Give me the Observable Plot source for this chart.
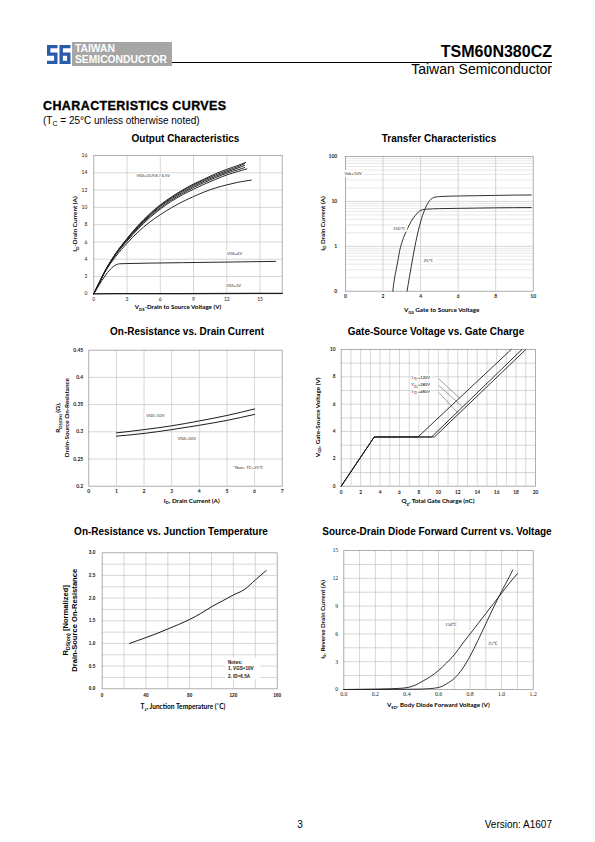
<!DOCTYPE html>
<html><head><meta charset="utf-8">
<script src="https://cdn.jsdelivr.net/npm/d3@7"></script>
<script src="https://cdn.jsdelivr.net/npm/@observablehq/plot@0.6"></script>
<style>
html,body{margin:0;padding:0;background:#fff;}
#page{position:relative;width:595px;height:842px;overflow:hidden;font-family:"Liberation Sans",Arial,sans-serif;color:#000;}
.t{position:absolute;white-space:nowrap;line-height:1;}
.ct{position:absolute;white-space:nowrap;font-weight:bold;font-size:10px;line-height:1;transform:translateX(-50%);}
</style></head><body>
<div id="page">
  <svg class="t" style="left:47px;top:45px" width="24" height="20" viewBox="0 0 24 20">
    <path fill="#2a5caa" d="M0,0H10.5V3.2H3.4V7.6H10.5V19H0V15.8H7.1V10.8H0Z"/>
    <path fill="#2a5caa" d="M12.5,0H23.5V3.2H15.9V7.6H23.5V19H12.5ZM15.9,10.8V15.8H20.1V10.8Z"/>
  </svg>
  <div class="t" style="left:72px;top:42px;width:100px;height:24px;background:#a6a6a6;"></div>
  <div class="t" style="left:75px;top:44.3px;color:#fff;font-weight:bold;font-size:10.3px;">TAIWAN</div>
  <div class="t" style="left:75px;top:55.3px;color:#fff;font-weight:bold;font-size:10.3px;">SEMICONDUCTOR</div>
  <div class="t" style="left:172px;top:62px;width:380px;height:1px;background:#000;"></div>
  <div class="t" style="right:43px;top:44.1px;font-weight:bold;font-size:16px;">TSM60N380CZ</div>
  <div class="t" style="right:43px;top:62.2px;font-size:14px;">Taiwan Semiconductor</div>
  <div class="t" style="left:43px;top:100.4px;font-weight:bold;font-size:12.5px;letter-spacing:0.4px;-webkit-text-stroke:0.35px #000;">CHARACTERISTICS CURVES</div>
  <div class="t" style="left:43px;top:115.5px;font-size:10px;">(T<sub style="font-size:7px;vertical-align:-1.5px;line-height:0;">C</sub> = 25°C unless otherwise noted)</div>
  <div class="ct" style="left:185.5px;top:133.5px;">Output Characteristics</div>
  <div class="ct" style="left:439px;top:133.5px;">Transfer Characteristics</div>
  <div class="ct" style="left:187px;top:326.5px;">On-Resistance vs. Drain Current</div>
  <div class="ct" style="left:436px;top:326.5px;">Gate-Source Voltage vs. Gate Charge</div>
  <div class="ct" style="left:171px;top:526.5px;">On-Resistance vs. Junction Temperature</div>
  <div class="ct" style="left:437px;top:526.5px;">Source-Drain Diode Forward Current vs. Voltage</div>
  <div class="t" style="left:297.2px;top:819.5px;font-size:10px;">3</div>
  <div class="t" style="right:43px;top:819.5px;font-size:10px;">Version: A1607</div>
</div>
<script>
// ---------------- DATA ----------------
// Output Characteristics: [VDS (V), ID (A)]
const outVgs10 = [[0,0],[0.5,1.3],[1,2.6],[2,4.7],[3,6.4],[4,7.9],[5,9.2],[6,10.3],[7,11.2],[8,12.0],[9,12.7],[10,13.3],[11,13.9],[12,14.4],[13,14.85],[13.7,15.2]];
const outVgs9  = [[0,0],[0.5,1.3],[1,2.6],[2,4.7],[3,6.35],[4,7.85],[5,9.1],[6,10.2],[7,11.1],[8,11.9],[9,12.6],[10,13.2],[11,13.75],[12,14.25],[13,14.7],[13.6,15.05]];
const outVgs8  = [[0,0],[0.5,1.3],[1,2.6],[2,4.65],[3,6.3],[4,7.75],[5,9.0],[6,10.1],[7,11.0],[8,11.75],[9,12.45],[10,13.05],[11,13.6],[12,14.1],[13,14.55],[13.6,14.85]];
const outVgs7  = [[0,0],[0.5,1.3],[1,2.55],[2,4.6],[3,6.2],[4,7.65],[5,8.9],[6,9.95],[7,10.85],[8,11.6],[9,12.3],[10,12.9],[11,13.45],[12,13.95],[13,14.35],[13.6,14.6]];
const outVgs6  = [[0,0],[0.5,1.3],[1,2.55],[2,4.55],[3,6.1],[4,7.5],[5,8.75],[6,9.8],[7,10.7],[8,11.45],[9,12.1],[10,12.7],[11,13.25],[12,13.75],[13,14.15],[13.8,14.45]];
const outVgs5  = [[0,0],[0.5,1.3],[1,2.5],[2,4.35],[3,5.85],[4,7.15],[5,8.25],[6,9.15],[7,9.95],[8,10.65],[9,11.25],[10,11.8],[11,12.25],[12,12.6],[13,12.9],[14.2,13.15]];
const outVgs4  = [[0,0],[0.5,1.05],[1,2.05],[1.5,2.85],[2,3.35],[2.3,3.47],[3,3.5],[5,3.55],[8,3.6],[12,3.67],[16.4,3.75]];
const outVgs3  = [[0,0],[2,0.02],[8,0.03],[17,0.06]];
const outLabels = [{x:5.36,y:13.7,t:"VGS=10,9,8,7,6,5V"},{x:12.7,y:4.6,t:"VGS=4V"},{x:12.6,y:0.9,t:"VGS=3V"}];

// Transfer Characteristics: [VGS (V), ID (A)]
const tr25  = [[3.28,0.1],[3.4,0.2],[3.5,0.35],[3.6,0.6],[3.7,1.0],[3.8,1.6],[3.9,2.4],[4.0,3.5],[4.1,4.8],[4.2,6.2],[4.3,7.8],[4.4,9.3],[4.5,10.6],[4.6,11.6],[4.7,12.2],[4.85,12.6],[5,12.8],[6,13.2],[7,13.4],[8,13.6],[9,13.8],[9.9,13.9]];
const tr150 = [[2.52,0.1],[2.6,0.18],[2.7,0.3],[2.8,0.5],[2.9,0.85],[3.0,1.2],[3.2,2.0],[3.4,3.0],[3.6,4.2],[3.8,5.3],[3.95,6.1],[4.1,6.5],[4.3,6.7],[5,6.9],[6,7.0],[7,7.1],[8,7.2],[9.9,7.3]];
const trLabels = [{x:0.41,y:41,t:"Vds=10V",a:"start"},{x:2.84,y:2.5,t:"150℃",a:"middle"},{x:4.4,y:0.47,t:"25℃",a:"middle"}];

// On-Resistance vs Drain Current: [ID (A), RDS(on) (ohm)]
const ronVgs10 = [[1,0.298],[2,0.304],[3,0.311],[4,0.320],[5,0.330],[6,0.342]];
const ronVgs20 = [[1,0.292],[2,0.297],[3,0.304],[4,0.312],[5,0.321],[6,0.332]];
const ronLabels = [{x:2.41,y:0.329,t:"VGS=10V"},{x:3.55,y:0.287,t:"VGS=20V"},{x:5.76,y:0.235,t:"*Note: TC=25℃"}];

// Gate charge: [Qg (nC), VGS (V)]
const gc120 = [[0,0],[3.4,3.6],[7.9,3.6],[17.5,10]];
const gc380 = [[0,0],[3.4,3.6],[9.3,3.6],[18.6,10]];
const gc480 = [[0,0],[3.4,3.6],[9.6,3.6],[19.0,10]];
const gcLabelNames = ["120V","380V","480V"];
const gcLabelY = [7.9,7.37,6.88];
const gcLeaders = [{x1:10.05,y1:7.85,x2:12.18,y2:6.45},{x1:10.05,y1:7.37,x2:12.5,y2:5.8},{x1:10.05,y1:6.85,x2:12.1,y2:5.3}];

// On-Resistance vs Junction Temperature: [TJ (°C), normalized RDS(on)]
const rtj = [[25,1.0],[40,1.13],[50,1.22],[60,1.32],[70,1.42],[80,1.53],[90,1.66],[100,1.81],[110,1.94],[120,2.07],[130,2.19],[140,2.4],[150,2.61]];
const rtjNotes = [{y:0.59,t:"Notes:"},{y:0.44,t:"1. VGS=10V"},{y:0.28,t:"2. ID=6.5A"}];

// Source-Drain diode: [VSD (V), IS (A)]
const sd150 = [[0,0],[0.1,0.02],[0.2,0.04],[0.3,0.08],[0.35,0.12],[0.4,0.2],[0.45,0.45],[0.5,0.9],[0.55,1.4],[0.6,2.05],[0.65,2.85],[0.7,3.75],[0.75,4.9],[0.8,6.0],[0.85,7.1],[0.9,8.2],[0.95,9.3],[1.0,10.4],[1.05,11.5],[1.1,12.5]];
const sd25  = [[0,0],[0.2,0.01],[0.4,0.02],[0.5,0.05],[0.55,0.1],[0.6,0.22],[0.63,0.4],[0.65,0.6],[0.7,1.2],[0.75,2.2],[0.8,3.6],[0.85,5.3],[0.9,7.1],[0.95,8.9],[1.0,10.6],[1.05,12.2],[1.07,12.9]];
const sdLabels = [{x:0.68,y:7.0,t:"150℃"},{x:0.945,y:5.0,t:"25℃"}];

// Tick lists
const outXTicks = [0,3,6,9,12,15], outYTicks = [0,2,4,6,8,10,12,14,16];
const trXTicks = [0,2,4,6,8,10], trYTicks = [0.1,1,10,100];
const trMinor = [0.2,0.3,0.4,0.5,0.6,0.7,0.8,0.9,2,3,4,5,6,7,8,9,20,30,40,50,60,70,80,90];
const ronXTicks = [0,1,2,3,4,5,6,7], ronYTicks = [0.2,0.25,0.3,0.35,0.4,0.45];
const gcXTicks = [0,2,4,6,8,10,12,14,16,18,20], gcYTicks = [0,2,4,6,8,10];
const rtjXTicks = [0,40,80,120,160], rtjYTicks = [0,0.5,1,1.5,2,2.5,3];
const sdXTicks = [0,0.2,0.4,0.6,0.8,1.0,1.2], sdYTicks = [0,3,6,9,12,15];

// ---------------- HELPERS ----------------
const page = document.getElementById("page");
const GRID = "#c4c4c4", FRAME = "#9a9a9a", INK = "#1c1c1c";
const CAL = "Lato, 'Open Sans', sans-serif";
const ARIAL = "'Liberation Sans', Arial, sans-serif";
const SERIF = "'Liberation Serif', 'Times New Roman', serif";

function rich(sel, segs, fs){
  let shift = 0;
  for (const s of segs){
    const sub = Array.isArray(s);
    const target = sub ? fs*0.28 : 0;
    const ts = sel.append("tspan").text(sub ? s[0] : s);
    if (target - shift !== 0) ts.attr("dy", target - shift);
    if (sub) ts.attr("font-size", fs*0.68);
    shift = target;
  }
}
function addText(plot, cfg, px, py, segs, o = {}){
  const fs = o.size || 6;
  const t = d3.select(plot).append("text")
    .attr("transform", `translate(${px - cfg.left},${py - cfg.top})` + (o.rotate ? ` rotate(${o.rotate})` : ""))
    .attr("text-anchor", o.anchor || "middle")
    .attr("font-size", fs).attr("font-weight", o.weight || "bold")
    .attr("font-family", o.family || CAL).attr("fill", "#000");
  if (o.halo) t.attr("stroke", "#fff").attr("stroke-width", o.halo).attr("paint-order", "stroke").attr("stroke-linejoin", "round");
  rich(t, segs, fs);
  return t;
}
function makeChart(cfg){
  const [mt, mr, mb, ml] = cfg.m;
  const marks = [];
  if (cfg.gridYMinor) marks.push(Plot.gridY(cfg.gridYMinor, {stroke: "#d6d6d6", strokeOpacity: 1, strokeWidth: 0.6}));
  marks.push(Plot.gridX(cfg.gridX, {stroke: GRID, strokeOpacity: 1, strokeWidth: 0.7}));
  marks.push(Plot.gridY(cfg.gridY, {stroke: GRID, strokeOpacity: 1, strokeWidth: 0.7}));
  marks.push(Plot.frame({stroke: FRAME, strokeWidth: 0.8}));
  const tf = {fontSize: cfg.tickSize, fontFamily: cfg.tickFamily, fontWeight: cfg.tickWeight, fill: "#222"};
  marks.push(Plot.axisX(cfg.xTicks, {tickSize: 0, tickPadding: cfg.xPad, tickFormat: cfg.xFmt, label: null, ...tf}));
  marks.push(Plot.axisY(cfg.yTicks, {tickSize: 0, tickPadding: cfg.yPad, tickFormat: cfg.yFmt, label: null, ...tf}));
  marks.push(...cfg.marks);
  const plot = Plot.plot({
    width: cfg.w, height: cfg.h,
    marginTop: mt, marginRight: mr, marginBottom: mb, marginLeft: ml,
    style: {background: "transparent", fontFamily: cfg.tickFamily, fontSize: cfg.tickSize + "px", color: "#000", overflow: "visible", maxWidth: "none"},
    x: {domain: cfg.xDomain, type: cfg.xType || "linear"},
    y: {domain: cfg.yDomain, type: cfg.yType || "linear"},
    marks
  });
  plot.style.position = "absolute";
  plot.style.left = cfg.left + "px";
  plot.style.top = cfg.top + "px";
  page.appendChild(plot);
  return plot;
}
const line = (d, o = {}) => Plot.line(d, {x: p => p[0], y: p => p[1], stroke: INK, strokeWidth: 0.9, curve: "monotone-x", ...o});

// ---------------- CHART 1: Output ----------------
{
  const cfg = {left: 60, top: 148, w: 230, h: 175, m: [7, 8.3, 29.7, 33.3],
    xDomain: [0, 17], yDomain: [0, 16],
    gridX: [3,6,9,12,15], gridY: [2,4,6,8,10,12,14],
    xTicks: outXTicks, yTicks: outYTicks, xFmt: d => String(d), yFmt: d => String(d),
    tickSize: 5, tickFamily: CAL, tickWeight: "normal", xPad: 4, yPad: 6.5,
    marks: [
      ...[outVgs10, outVgs9, outVgs8, outVgs7, outVgs6, outVgs5, outVgs4].map(s => line(s, {strokeWidth: 0.95})),
      line(outVgs3, {strokeWidth: 1.3}),
      Plot.text(outLabels, {x: "x", y: "y", text: "t", fontSize: 4, fontFamily: CAL, fill: "#333", stroke: "#fff", strokeWidth: 2})
    ]};
  const p = makeChart(cfg);
  addText(p, cfg, 77, 224, ["I", ["D"], "-Drain Current (A)"], {rotate: -90, size: 6.3});
  addText(p, cfg, 178, 309, ["V", ["DS"], "-Drain to Source Voltage (V)"], {size: 6.2});
}

// ---------------- CHART 2: Transfer ----------------
{
  const cfg = {left: 310, top: 148, w: 240, h: 175, m: [8, 17.3, 32.3, 35],
    xDomain: [0, 10], yDomain: [0.1, 100], yType: "log",
    gridX: [2,4,6,8], gridY: [1,10], gridYMinor: trMinor,
    xTicks: trXTicks, yTicks: trYTicks, xFmt: d => String(d), yFmt: d => d === 0.1 ? "0" : String(d),
    tickSize: 5, tickFamily: CAL, tickWeight: "bold", xPad: 3.5, yPad: 8.3,
    marks: [
      line(tr25), line(tr150),
      Plot.text(trLabels, {x: "x", y: "y", text: "t", textAnchor: d => d.a, fontSize: 4.3, fontFamily: CAL, fill: "#333", stroke: "#fff", strokeWidth: 4})
    ]};
  const p = makeChart(cfg);
  addText(p, cfg, 324.5, 223.5, ["I", ["D"], " Drain Current (A)"], {rotate: -90, size: 6.3});
  addText(p, cfg, 441.7, 312, ["V", ["GS"], " Gate to Source Voltage"], {size: 6.3});
}

// ---------------- CHART 3: On-resistance vs drain current ----------------
{
  const cfg = {left: 30, top: 340, w: 260, h: 170, m: [9.7, 8.3, 24.3, 58.3],
    xDomain: [0, 7], yDomain: [0.2, 0.45],
    gridX: [1,2,3,4,5,6], gridY: [0.25,0.3,0.35,0.4],
    xTicks: ronXTicks, yTicks: ronYTicks, xFmt: d => String(d), yFmt: d => String(d),
    tickSize: 5, tickFamily: CAL, tickWeight: "bold", xPad: 3.3, yPad: 5.6,
    marks: [
      line(ronVgs10, {strokeWidth: 1}), line(ronVgs20, {strokeWidth: 1}),
      Plot.text(ronLabels, {x: "x", y: "y", text: "t", fontSize: 4.2, fontFamily: CAL, fill: "#333", stroke: "#fff", strokeWidth: 4})
    ]};
  const p = makeChart(cfg);
  addText(p, cfg, 60.3, 417.7, ["R", ["DS(ON)"], " (Ω),"], {rotate: -90, size: 6.3});
  addText(p, cfg, 68.8, 417.7, ["Drain-Source On-Resistance"], {rotate: -90, size: 6.3});
  addText(p, cfg, 191.7, 502.5, ["I", ["D"], ", Drain Current (A)"], {size: 6.3});
}

// ---------------- CHART 4: Gate charge ----------------
{
  const cfg = {left: 310, top: 340, w: 240, h: 170, m: [9, 15, 24.3, 30.7],
    xDomain: [0, 20], yDomain: [0, 10],
    gridX: [1,2,3,4,5,6,7,8,9,10,11,12,13,14,15,16,17,18,19], gridY: [1,2,3,4,5,6,7,8,9],
    xTicks: gcXTicks, yTicks: gcYTicks, xFmt: d => String(d), yFmt: d => String(d),
    tickSize: 4.8, tickFamily: CAL, tickWeight: "bold", xPad: 4.3, yPad: 5.7,
    marks: [
      line(gc120, {curve: "linear"}), line(gc380, {curve: "linear"}), line(gc480, {curve: "linear"}),
      Plot.link(gcLeaders, {x1: "x1", y1: "y1", x2: "x2", y2: "y2", stroke: "#444", strokeWidth: 0.5})
    ]};
  const p = makeChart(cfg);
  const sx = p.scale("x"), sy = p.scale("y");
  gcLabelNames.forEach((n, i) => {
    addText(p, cfg, cfg.left + sx.apply(7.3), cfg.top + sy.apply(gcLabelY[i]) + 1.5, ["V", ["DS"], "=" + n], {size: 4, anchor: "start", weight: "normal", halo: 2.5});
  });
  addText(p, cfg, 319.5, 417.3, ["V", ["GS"], ", Gate-Source Voltage (V)"], {rotate: -90, size: 6.3});
  addText(p, cfg, 438, 503, ["Q", ["g"], ", Total Gate Charge (nC)"], {size: 6.3});
}

// ---------------- CHART 5: On-resistance vs TJ ----------------
{
  const cfg = {left: 30, top: 540, w: 260, h: 175, m: [12.3, 13.3, 26.7, 71.7],
    xDomain: [0, 160], yDomain: [0, 3],
    gridX: [20,40,60,80,100,120,140], gridY: [0.25,0.5,0.75,1,1.25,1.5,1.75,2,2.25,2.5,2.75],
    xTicks: rtjXTicks, yTicks: rtjYTicks, xFmt: d => String(d), yFmt: d => d.toFixed(1),
    tickSize: 4.8, tickFamily: ARIAL, tickWeight: "bold", xPad: 5, yPad: 6.7,
    marks: [
      line(rtj, {strokeWidth: 1}),
      Plot.rect([0], {x1: 113, x2: 145, y1: 0.2, y2: 0.68, fill: "#fff"}),
      Plot.text(rtjNotes, {x: 115, y: "y", text: "t", textAnchor: "start", fontSize: 4.6, fontWeight: "bold", fontFamily: ARIAL, fill: "#111"})
    ]};
  const p = makeChart(cfg);
  addText(p, cfg, 68.3, 620.3, ["R", ["DS(on)"], " [Normalized]"], {rotate: -90, size: 7.6, family: ARIAL});
  addText(p, cfg, 77.3, 620.3, ["Drain-Source On-Resistance"], {rotate: -90, size: 7.6, family: ARIAL});
  addText(p, cfg, 183, 709, ["T", ["J"], ", Junction Temperature (˚C)"], {size: 6.6});
}

// ---------------- CHART 6: Source-drain diode ----------------
{
  const cfg = {left: 305, top: 540, w: 245, h: 175, m: [10, 17.3, 26, 38.3],
    xDomain: [0, 1.2], yDomain: [0, 15],
    gridX: [0.1,0.2,0.3,0.4,0.5,0.6,0.7,0.8,0.9,1.0,1.1], gridY: [1.5,3,4.5,6,7.5,9,10.5,12,13.5],
    xTicks: sdXTicks, yTicks: sdYTicks, xFmt: d => d.toFixed(1), yFmt: d => String(d),
    tickSize: 5.8, tickFamily: SERIF, tickWeight: "normal", xPad: 2.7, yPad: 5.6,
    marks: [
      line(sd150), line(sd25),
      Plot.text(sdLabels, {x: "x", y: "y", text: "t", fontSize: 4.6, fontFamily: SERIF, fill: "#222", stroke: "#fff", strokeWidth: 4})
    ]};
  const p = makeChart(cfg);
  addText(p, cfg, 324.5, 619.5, ["I", ["S"], ", Reverse Drain Current (A)"], {rotate: -90, size: 6.3});
  addText(p, cfg, 438.3, 707, ["V", ["SD"], ", Body Diode Forward Voltage (V)"], {size: 6.3});
}
</script>
</body></html>
